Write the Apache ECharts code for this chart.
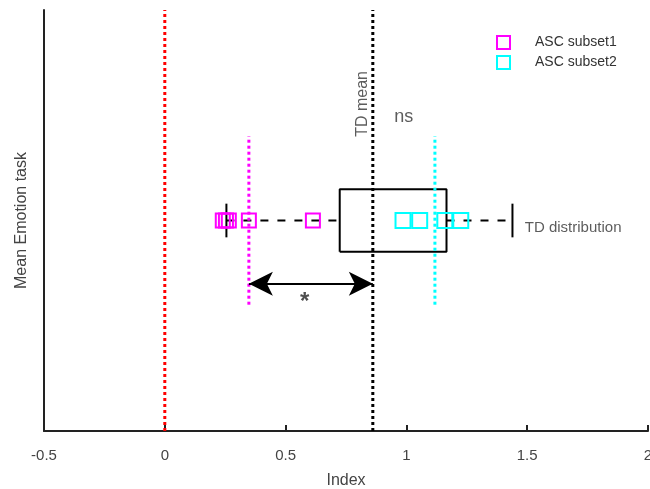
<!DOCTYPE html>
<html><head><meta charset="utf-8">
<script src="https://cdn.jsdelivr.net/npm/echarts@6/dist/echarts.min.js"></script>
<style>html,body{margin:0;padding:0;background:#fff}#c{width:650px;height:489px}</style>
</head><body><div id="c"></div>
<script>
// Data
const xTicks = [-0.5, 0, 0.5, 1, 1.5, 2];
const subset1 = [0.240, 0.253, 0.265, 0.348, 0.613];
const subset2 = [0.986, 1.055, 1.159, 1.225];
const subset1Mean = 0.348;
const subset2Mean = 1.118;
const tdMean = 0.861;
const zeroLine = 0;
const tdBox = [0.724, 1.166];     // box left/right
const tdWhisker = [0.255, 1.439]; // whisker ends
const rowY = 0.5;

const font = 'Liberation Sans, Arial, Helvetica, sans-serif';
const txt = '#333';
const dotted = [3, 3];

function vline(x, y0, y1, color, type, width) {
  return { type: 'line', data: [[x, y0], [x, y1]], symbol: 'none', silent: true,
    lineStyle: { color: color, type: type, width: width || 3 }, z: 2 };
}
function textPt(x, y, text, opts) {
  return { type: 'scatter', data: [[x, y]], symbolSize: 0, silent: true,
    label: Object.assign({ show: true, formatter: text, color: txt, fontFamily: font, fontSize: 16 }, opts) };
}

const chart = echarts.init(document.getElementById('c'));
chart.setOption({
  animation: false,
  grid: { left: 44, right: 2, top: 10, bottom: 58, containLabel: false, outerBoundsMode: 'none' },
  xAxis: {
    type: 'value', min: xTicks[0], max: xTicks[xTicks.length - 1], interval: 0.5,
    name: 'Index', nameLocation: 'middle', nameGap: 42,
    nameTextStyle: { fontFamily: font, fontSize: 16, color: '#444' },
    axisLine: { onZero: false, lineStyle: { color: '#222', width: 2 } },
    axisTick: { inside: true, length: 6, lineStyle: { color: '#222', width: 2 } },
    axisLabel: { fontFamily: font, fontSize: 15, color: '#444', margin: 17 },
    splitLine: { show: false }
  },
  yAxis: {
    type: 'value', min: 0, max: 1,
    name: 'Mean Emotion task', nameLocation: 'middle', nameGap: 14,
    nameTextStyle: { fontFamily: font, fontSize: 16, color: '#444' },
    axisLine: { show: true, onZero: false, lineStyle: { color: '#222', width: 2 } },
    axisTick: { show: false }, axisLabel: { show: false }, splitLine: { show: false }
  },
  legend: {
    orient: 'vertical', left: 491, top: 30, itemWidth: 13, itemHeight: 13, itemGap: 5,
    data: ['ASC subset1', 'ASC subset2'],
    textStyle: { fontFamily: font, fontSize: 14, color: '#333', padding: [0, 0, 0, 20] }
  },
  series: [
    vline(zeroLine, 0, 1, '#ff0000', dotted, 3),
    // box
    { type: 'line', data: [[tdBox[0], 0.426], [tdBox[1], 0.426], [tdBox[1], 0.574], [tdBox[0], 0.574], [tdBox[0], 0.426]],
      symbol: 'none', silent: true, lineStyle: { color: '#000', width: 2 }, z: 1 },
    // whiskers
    { type: 'line', data: [[tdWhisker[0], rowY], [tdBox[0], rowY]], symbol: 'none', silent: true,
      lineStyle: { color: '#000', width: 2, type: [8, 9] }, z: 1 },
    { type: 'line', data: [[tdBox[1], rowY], [tdWhisker[1], rowY]], symbol: 'none', silent: true,
      lineStyle: { color: '#000', width: 2, type: [8, 9] }, z: 1 },
    vline(tdWhisker[0], 0.46, 0.54, '#000', 'solid', 2),
    vline(tdWhisker[1], 0.46, 0.54, '#000', 'solid', 2),
    vline(tdMean, 0, 1, '#000', dotted, 3),
    vline(subset1Mean, 0.3, 0.7, '#ff00ff', dotted, 3),
    vline(subset2Mean, 0.3, 0.7, '#00ffff', dotted, 3),
    {
      name: 'ASC subset1', type: 'scatter', symbol: 'rect', symbolSize: 14,
      data: subset1.map(v => [v, rowY]),
      itemStyle: { color: 'rgba(255,255,255,0)', borderColor: '#ff00ff', borderWidth: 2, opacity: 1 }, z: 5
    },
    {
      name: 'ASC subset2', type: 'scatter', symbol: 'rect', symbolSize: 15,
      data: subset2.map(v => [v, rowY]),
      itemStyle: { color: 'rgba(255,255,255,0)', borderColor: '#00ffff', borderWidth: 2, opacity: 1 }, z: 5
    },
    // arrow
    { type: 'line', data: [], silent: true,
      markLine: { silent: true, symbol: ['arrow', 'arrow'], symbolSize: [18, 24], label: { show: false },
        lineStyle: { color: '#000', width: 2, type: 'solid' },
        data: [[{ coord: [subset1Mean, 0.35] }, { coord: [tdMean, 0.35] }]] } },
    textPt(0.82, 0.777, 'TD mean', { rotate: 90, position: 'inside', fontSize: 16 }),
    textPt(0.989, 0.746, 'ns', { position: 'inside', fontSize: 18 }),
    textPt(1.49, 0.482, 'TD distribution', { position: 'right', distance: 0, fontSize: 15 }),
    textPt(0.579, 0.305, '*', { position: 'inside', fontSize: 24, fontWeight: 'bold', color: '#222' })
  ]
});
</script></body></html>
